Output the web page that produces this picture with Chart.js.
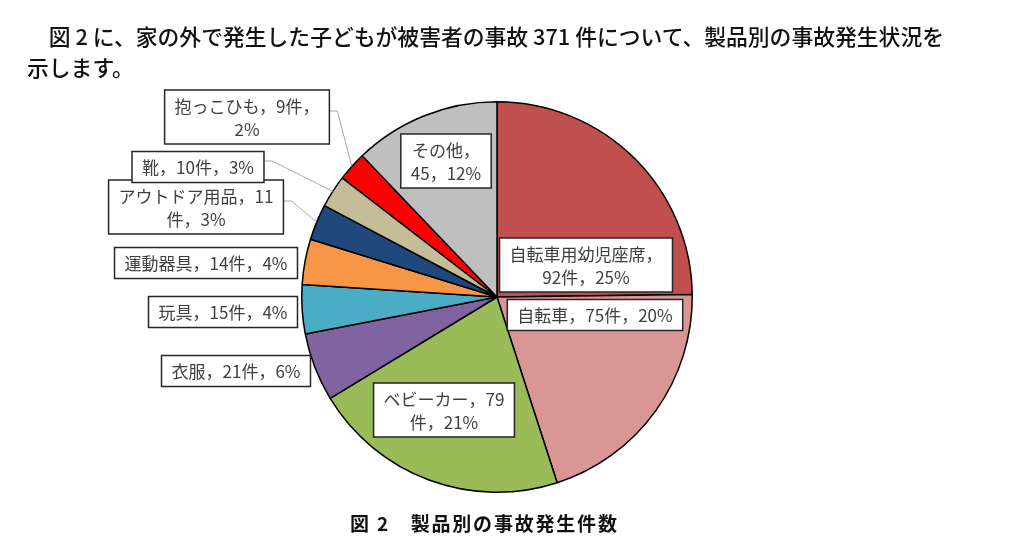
<!DOCTYPE html>
<html>
<head>
<meta charset="utf-8">
<script src="https://cdn.jsdelivr.net/npm/chart.js@4/dist/chart.umd.min.js"></script>
<style>
  body { margin: 0; background: #fff; font-family: "Noto Sans CJK JP", sans-serif; }
  #wrap { position: relative; width: 1024px; height: 558px; overflow: hidden; }
  #lead { position: absolute; left: 27px; top: 20px; font-size: 21.8px; line-height: 31px; color: #111; font-weight: 500; }
  #cap { position: absolute; left: 350px; top: 509px; font-size: 19px; letter-spacing: 1.8px; font-weight: bold; color: #111; }
  canvas { position: absolute; left: 0; top: 0; }
</style>
</head>
<body>
<div id="wrap">
  <canvas id="mycanvas" width="1024" height="558"></canvas>
  <div id="lead">　図 2 に、家の外で発生した子どもが被害者の事故 371 件について、製品別の事故発生状況を<br>示します。</div>
  <div id="cap">図 2　製品別の事故発生件数</div>
</div>
<script>
var products = ['自転車用幼児座席', '自転車', 'ベビーカー', '衣服', '玩具', '運動器具', 'アウトドア用品', '靴', '抱っこひも', 'その他'];
var counts = [92, 75, 79, 21, 15, 14, 11, 10, 9, 45];
var colors = ['#C0504D', '#D99694', '#9BBB59', '#8064A2', '#4BACC6', '#F79646', '#1F497D', '#C4BD97', '#FF0000', '#BFBFBF'];
// how many characters go on the first line of each label (null = one line)
var wrapAt = [9, null, 8, null, null, null, 10, null, 9, 4];
// label box centre, offset from pie centre (px)
var labelOffset = [[89, -32], [98, 18], [-53, 113], [-261, 74], [-274, 15], [-291, -34], [-301, -90], [-299, -130], [-250, -180], [-51, -136]];
// which labels get a leader line
var leader = [false, false, false, false, false, false, true, true, true, false];

var total = counts.reduce(function(a, b){ return a + b; }, 0);

function labelLines(i) {
	var pct = Math.round(counts[i] / total * 100);
	var txt = products[i] + '，' + counts[i] + (products[i] == 'その他' ? '' : '件') + '，' + pct + '%';
	if (wrapAt[i] == null) return [txt];
	return [txt.slice(0, wrapAt[i]), txt.slice(wrapAt[i])];
}

var boxLabels = {
	id: 'boxLabels',
	afterDatasetsDraw: function(chart) {
		var ctx = chart.ctx;
		var meta = chart.getDatasetMeta(0);
		ctx.save();
		ctx.font = '17px "Noto Sans CJK JP"';
		ctx.textAlign = 'center';
		ctx.textBaseline = 'middle';
		meta.data.forEach(function(arc, i) {
			var cx = arc.x, cy = arc.y;
			var lines = labelLines(i);
			var w = 0;
			lines.forEach(function(l){ w = Math.max(w, ctx.measureText(l).width); });
			w += 20;
			var lh = 23;
			var h = lines.length * lh + 8;
			var bx = cx + labelOffset[i][0], by = cy + labelOffset[i][1];
			var left = bx - w / 2, top = by - h / 2;
			if (leader[i]) {
				var mid = (arc.startAngle + arc.endAngle) / 2;
				var ex = cx + Math.cos(mid) * arc.outerRadius;
				var ey = cy + Math.sin(mid) * arc.outerRadius;
				var sx = left + w, sy = by - 6;
				ctx.strokeStyle = '#A6A6A6';
				ctx.lineWidth = 1;
				ctx.beginPath();
				ctx.moveTo(sx, sy);
				ctx.lineTo(sx + 8, sy);
				ctx.lineTo(ex, ey);
				ctx.stroke();
			}
			ctx.fillStyle = '#fff';
			ctx.fillRect(left, top, w, h);
			ctx.strokeStyle = '#262626';
			ctx.lineWidth = 1.5;
			ctx.strokeRect(left, top, w, h);
			ctx.fillStyle = '#404040';
			lines.forEach(function(l, k) {
				ctx.fillText(l, bx, top + 4 + lh * k + lh / 2 + 1);
			});
		});
		ctx.restore();
	}
};

var ctx = document.getElementById('mycanvas');
var pieChart = new Chart(ctx, {
	type: 'pie',
	data: {
		labels: products,
		datasets: [{
			data: counts,
			backgroundColor: colors,
			borderColor: '#000',
			borderWidth: 1.5
		}]
	},
	options: {
		responsive: false,
		animation: false,
		layout: { padding: { left: 301, right: 331, top: 101, bottom: 65 } },
		plugins: { legend: { display: false }, tooltip: { enabled: false } }
	},
	plugins: [boxLabels]
});
</script>
</body>
</html>
